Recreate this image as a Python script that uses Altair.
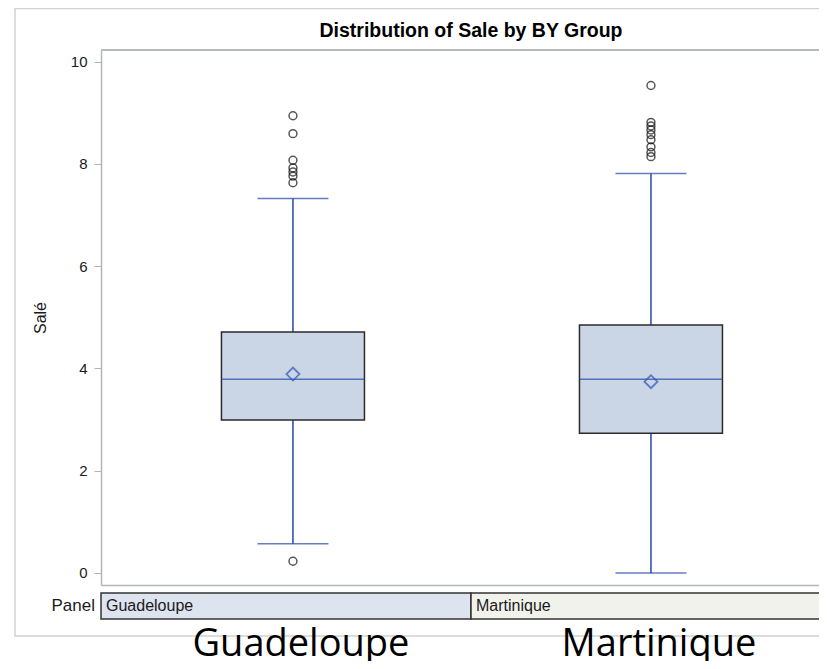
import altair as alt
import pandas as pd

# ---- data ----
cats = ["Guadeloupe", "Martinique"]
q1 = [2.99, 2.73]
median = [3.79, 3.79]
q3 = [4.71, 4.85]
mean = [3.89, 3.74]
whisker_low = [0.57, 0.0]
whisker_high = [7.32, 7.81]
outliers_gua = [8.94, 8.59, 8.07, 7.92, 7.84, 7.76, 7.63, 0.23]
outliers_mar = [9.53, 8.81, 8.74, 8.66, 8.57, 8.47, 8.33, 8.22, 8.14]
y_ticks = [0, 2, 4, 6, 8, 10]
strip_fills = ["#dde3ef", "#f2f2ec"]
title_text = "Distribution of Sale by BY Group"

box_df = pd.DataFrame({
    "region": cats, "q1": q1, "median": median, "q3": q3, "mean": mean,
    "lo": whisker_low, "hi": whisker_high,
})
out_df = pd.DataFrame({
    "region": [cats[0]] * len(outliers_gua) + [cats[1]] * len(outliers_mar),
    "value": outliers_gua + outliers_mar,
})
cat_df = pd.DataFrame({"region": cats})
one_df = pd.DataFrame({"t": ["Panel"], "title": [title_text]})

BLUE = "#2446a8"
BORDER = "#b2b6ba"
FONT = "Liberation Sans"

xs = alt.Scale(domain=cats, range=[0, 740], paddingInner=0, paddingOuter=0.0335, align=0.54)
ys = alt.Scale(domain=[-0.235, 10.225], nice=False, zero=False)

X = alt.X("region:N", scale=xs,
          axis=alt.Axis(title=None, labels=False, ticks=False, domainColor=BORDER, domainWidth=1.5))
yaxis = alt.Axis(title="Salé", values=y_ticks, grid=False, tickSize=7, labelPadding=7,
                 titlePadding=22, domainColor=BORDER, domainWidth=1.5, tickColor=BORDER,
                 labelFontSize=15, titleFontSize=16, titleFontWeight="normal",
                 labelColor="#1a1a1a", titleColor="#1a1a1a", labelFont=FONT, titleFont=FONT)


def Y(field):
    return alt.Y(f"{field}:Q", scale=ys, axis=yaxis)


base = alt.Chart(box_df)

topline = base.mark_rule(color=BORDER, strokeWidth=1.5).encode(
    x=alt.value(0), x2=alt.value(740), y=alt.value(0))
whisker = base.mark_rule(color=BLUE, strokeWidth=1.5).encode(x=X, y=Y("lo"), y2="hi:Q")
cap_lo = base.mark_tick(color=BLUE, size=71, thickness=1.5).encode(x=X, y=Y("lo"))
cap_hi = base.mark_tick(color=BLUE, size=71, thickness=1.5).encode(x=X, y=Y("hi"))
box = base.mark_bar(size=143, fill="#cad5e6", stroke="#2b2b2b", strokeWidth=1.5).encode(
    x=X, y=Y("q1"), y2="q3:Q")
med = base.mark_tick(color=BLUE, size=143, thickness=1.5).encode(x=X, y=Y("median"))
mean_pt = base.mark_point(shape="diamond", filled=False, size=170, strokeWidth=1.8,
                          color="#2f52b4").encode(x=X, y=Y("mean"))
outl = alt.Chart(out_df).mark_point(shape="circle", filled=False, size=62, strokeWidth=1.5,
                                    color="#111111").encode(x=X, y=Y("value"))
big = alt.Chart(cat_df).mark_text(font="Open Sans", fontSize=38, color="#000000",
                                  baseline="alphabetic", align="center", dx=8).encode(
    x=X, y=alt.value(606), text="region:N")

main = alt.layer(topline, whisker, cap_lo, cap_hi, box, med, mean_pt, outl, big)

ss = alt.Scale(domain=cats, range=[0, 740], paddingInner=0, paddingOuter=0)
strip_rect = alt.Chart(cat_df).mark_rect(stroke="#333333", strokeWidth=1.5).encode(
    x=alt.X("region:N", scale=ss, axis=None),
    y=alt.value(543), y2=alt.value(569),
    color=alt.Color("region:N", scale=alt.Scale(domain=cats, range=strip_fills), legend=None),
)
strip_text = alt.Chart(cat_df).mark_text(font=FONT, fontSize=16, align="left", baseline="middle",
                                         dx=5, color="#1a1a1a").encode(
    x=alt.X("region:N", scale=ss, axis=None, bandPosition=0),
    y=alt.value(556), text="region:N")
panel_text = alt.Chart(one_df).mark_text(font=FONT, fontSize=17, align="right", baseline="middle",
                                         color="#1a1a1a").encode(
    x=alt.value(-6), y=alt.value(556), text="t:N")
strip = alt.layer(strip_rect, strip_text, panel_text)

frame = alt.Chart(one_df).mark_rect(fillOpacity=0, stroke="#d2d2d2", strokeWidth=1.5).encode(
    x=alt.value(-86), x2=alt.value(760), y=alt.value(-41.5), y2=alt.value(586))
title = alt.Chart(one_df).mark_text(font=FONT, fontSize=19.5, fontWeight="bold", color="#000000",
                                    align="center", baseline="alphabetic").encode(
    x=alt.value(370), y=alt.value(-13), text="title:N")

chart = alt.layer(frame, title, main, strip).resolve_scale(
    x="independent", color="independent").properties(
    width=718, height=535,
    autosize=alt.AutoSizeParams(type="none"),
    padding={"left": 93, "top": 42, "right": 0, "bottom": 76},
).configure_view(stroke=None).configure(font=FONT)

chart.save("out.html", embed_options={"renderer": "svg", "actions": False})
